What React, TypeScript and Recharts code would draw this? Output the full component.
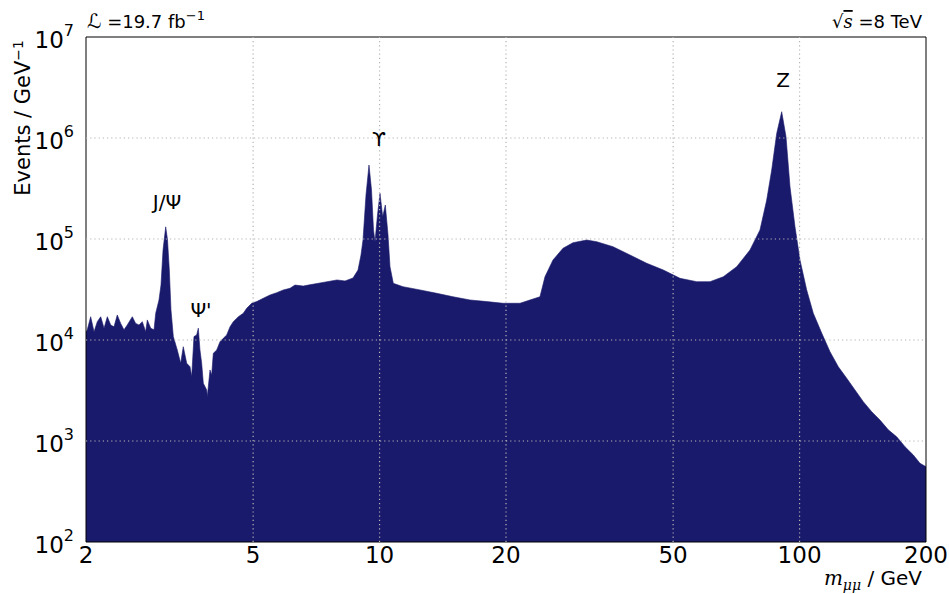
import React from "react";
import { ComposedChart, Area, XAxis, YAxis, ReferenceLine } from "recharts";

// dimuon invariant mass spectrum
const MASS = [
  2.0, 2.014, 2.052, 2.09, 2.128, 2.168, 2.208, 2.248, 2.29, 2.332, 2.374, 2.419, 2.463, 2.508, 2.578,
  2.626, 2.674, 2.723, 2.774, 2.799, 2.852, 2.904, 2.931, 2.984, 3.017, 3.051, 3.096, 3.127, 3.158,
  3.187, 3.228, 3.299, 3.361, 3.409, 3.474, 3.537, 3.57, 3.615, 3.669, 3.702, 3.736, 3.771, 3.805,
  3.876, 3.889, 3.947, 3.984, 4.019, 4.095, 4.17, 4.246, 4.325, 4.405, 4.485, 4.61, 4.738, 4.827,
  4.961, 5.099, 5.287, 5.485, 5.69, 5.9, 6.12, 6.29, 6.583, 6.766, 7.214, 7.919, 8.274, 8.644, 8.885,
  9.032, 9.132, 9.283, 9.437, 9.568, 9.673, 9.753, 9.887, 10.024, 10.173, 10.32, 10.474, 10.589,
  10.782, 11.371, 12.484, 13.678, 14.956, 16.416, 17.992, 19.674, 21.596, 22.809, 24.095, 24.765,
  25.876, 27.334, 28.874, 31.133, 32.887, 35.96, 39.472, 43.254, 47.39, 51.918, 56.895, 61.198,
  65.828, 70.848, 76.197, 80.496, 83.506, 85.829, 88.215, 90.668, 92.832, 94.89, 97.526, 100.237,
  103.985, 107.819, 112.901, 118.155, 123.655, 129.482, 135.508, 141.817, 148.497, 155.412,
  162.646, 170.309, 178.25, 186.547, 193.523, 200,
];
const EVENTS = [
  11900, 12600, 17000, 12100, 15200, 17000, 13100, 17000, 14100, 13500, 17700, 14600, 12600, 14100,
  17000, 14600, 14100, 15200, 12100, 15800, 13100, 12600, 18400, 24900, 35000, 77800, 132000, 97700,
  49300, 19800, 10800, 7960, 5880, 8580, 5880, 5440, 4330, 10800, 11200, 13100, 7960, 5880, 3730,
  3200, 2750, 5050, 4500, 7380, 7960, 9620, 10400, 11200, 13500, 15200, 17000, 18400, 20600, 23100,
  24000, 25900, 27900, 29400, 31300, 32500, 35000, 34200, 35000, 36700, 39300, 38400, 41100, 49300,
  69400, 97700, 273000, 540000, 306000, 123000, 94000, 173000, 283000, 166000, 217000, 110000,
  53200, 36400, 33700, 31300, 29000, 26800, 24900, 24000, 23100, 23100, 24900, 26800, 42300, 61900,
  80900, 91900, 97700, 94000, 83900, 69400, 57500, 49300, 40800, 37800, 37800, 42300, 53200, 77800,
  123000, 243000, 482000, 1110000, 1820000, 1030000, 329000, 132000, 61900, 31300, 18400, 11700,
  7660, 5440, 4180, 3200, 2450, 1950, 1610, 1290, 1100, 878, 727, 601, 557,
];

const X_TICKS = [2, 5, 10, 20, 50, 100, 200];
const X_GRID = [5, 10, 20, 50, 100];
const Y_TICKS = [1e2, 1e3, 1e4, 1e5, 1e6, 1e7];
const Y_GRID = [1e3, 1e4, 1e5, 1e6];
const Y_MINOR = [
  200, 300, 400, 500, 600, 700, 800, 900,
  2e3, 3e3, 4e3, 5e3, 6e3, 7e3, 8e3, 9e3,
  2e4, 3e4, 4e4, 5e4, 6e4, 7e4, 8e4, 9e4,
  2e5, 3e5, 4e5, 5e5, 6e5, 7e5, 8e5, 9e5,
  2e6, 3e6, 4e6, 5e6, 6e6, 7e6, 8e6, 9e6,
];

const data = MASS.map((m, i) => ({ m, n: EVENTS[i] }));

const FONT = "DejaVu Sans, sans-serif";
const NAVY = "#1a1a6c";
const W = 949;
const H = 594;

function YTick({ x, y, payload }: any) {
  const exp = Math.round(Math.log10(payload.value));
  return (
    <text x={x - 12} y={y + 11} textAnchor="end" fontSize={23} fontFamily={FONT} fill="#000">
      10
      <tspan dy={-12} fontSize={16}>{exp}</tspan>
    </text>
  );
}

function XTick({ x, y, payload }: any) {
  return (
    <text x={x} y={y + 21} textAnchor="middle" fontSize={23} fontFamily={FONT} fill="#000">
      {payload.value}
    </text>
  );
}

const logX = { dataKey: "m", scale: "log" as const, type: "number" as const, domain: [2, 200], allowDataOverflow: true, interval: 0 as const };
const logY = { dataKey: "n", scale: "log" as const, type: "number" as const, domain: [100, 1e7], allowDataOverflow: true, interval: 0 as const };
const black = { stroke: "#000", strokeWidth: 1 };

// dotted grid drawn in a transparent chart stacked on top, so it shows over the filled histogram
function GridOverlay() {
  return (
    <div style={{ position: "absolute", left: 0, top: 0, zIndex: 5, pointerEvents: "none" }}>
      <ComposedChart width={W} height={H} data={data} margin={{ top: 37, right: 23, bottom: 52, left: 86 }}>
        <XAxis xAxisId="g" {...logX} hide />
        <YAxis yAxisId="g" {...logY} hide />
        {X_GRID.map((v) => (
          <ReferenceLine key={"gx" + v} xAxisId="g" yAxisId="g" x={v} stroke="#b4b4b4" strokeWidth={1.2}
            strokeDasharray="1.2 3" ifOverflow="visible" />
        ))}
        {Y_GRID.map((v) => (
          <ReferenceLine key={"gy" + v} xAxisId="g" yAxisId="g" y={v} stroke="#b4b4b4" strokeWidth={1.2}
            strokeDasharray="1.2 3" ifOverflow="visible" />
        ))}
      </ComposedChart>
    </div>
  );
}

export default function App() {
  return (
    <div style={{ position: "absolute", left: 0, top: 0, width: W, height: H, background: "#fff" }}>
      <div style={{ position: "absolute", left: 0, top: 0, zIndex: 1 }}>
        <ComposedChart width={W} height={H} data={data} margin={{ top: 37, right: 23, bottom: 0, left: 0 }}>
          {/* axes carrying the labels */}
          <XAxis xAxisId="x" {...logX} ticks={X_TICKS} height={52} tickSize={0} tickMargin={0}
            tickLine={false} axisLine={black} tick={<XTick />} />
          <YAxis yAxisId="y" {...logY} ticks={Y_TICKS} width={86} tickSize={0} tickMargin={0}
            tickLine={false} axisLine={black} tick={<YTick />} />

          {/* inward tick marks on the four sides */}
          <XAxis xAxisId="xb" {...logX} ticks={X_TICKS} height={1} mirror tickSize={5} tick={false}
            axisLine={false} tickLine={black} />
          <XAxis xAxisId="xt" orientation="top" {...logX} ticks={X_TICKS} height={1} mirror tickSize={5}
            tick={false} axisLine={black} tickLine={black} />
          <YAxis yAxisId="yl" {...logY} ticks={Y_TICKS} width={1} mirror tickSize={6} tick={false}
            axisLine={false} tickLine={black} />
          <YAxis yAxisId="ylm" {...logY} ticks={Y_MINOR} width={1} mirror tickSize={3} tick={false}
            axisLine={false} tickLine={black} />
          <YAxis yAxisId="yr" orientation="right" {...logY} ticks={Y_TICKS} width={1} mirror tickSize={6}
            tick={false} axisLine={black} tickLine={black} />
          <YAxis yAxisId="yrm" orientation="right" {...logY} ticks={Y_MINOR} width={1} mirror tickSize={3}
            tick={false} axisLine={false} tickLine={black} />

          <Area
            xAxisId="x"
            yAxisId="y"
            dataKey="n"
            type="linear"
            baseValue={100}
            stroke={NAVY}
            strokeWidth={0.6}
            fill={NAVY}
            fillOpacity={1}
            isAnimationActive={false}
            dot={false}
            activeDot={false}
          />
        </ComposedChart>
      </div>

      <GridOverlay />

      <svg width={W} height={H} style={{ position: "absolute", left: 0, top: 0, zIndex: 6, pointerEvents: "none" }}>
        <g fontFamily={FONT} fill="#000">
          <text x={87} y={28} fontSize={18}>
            <tspan fontStyle="italic" fontSize={20}>ℒ</tspan>
            <tspan> =19.7 fb</tspan>
            <tspan dy={-8} fontSize={13}>−1</tspan>
          </text>
          <text x={922} y={28} fontSize={18} textAnchor="end">
            <tspan>√</tspan>
            <tspan fontStyle="italic" fontFamily="DejaVu Serif, serif" textDecoration="overline">s</tspan>
            <tspan> =8 TeV</tspan>
          </text>
          <text transform="translate(30,40) rotate(-90)" fontSize={21} textAnchor="end">
            Events / GeV
            <tspan dy={-7} fontSize={14}>−1</tspan>
          </text>
          <text x={922} y={585} fontSize={20} textAnchor="end">
            <tspan fontStyle="italic" fontFamily="DejaVu Serif, serif">m</tspan>
            <tspan dy={5} fontSize={14} fontStyle="italic" fontFamily="DejaVu Serif, serif">μμ</tspan>
            <tspan dy={-5}> / GeV</tspan>
          </text>
          <text x={167} y={209} fontSize={20} textAnchor="middle">J/Ψ</text>
          <text x={201} y={317} fontSize={20} textAnchor="middle">Ψ'</text>
          <text x={379} y={146} fontSize={20} textAnchor="middle">ϒ</text>
          <text x={783} y={87} fontSize={20} textAnchor="middle">Z</text>
        </g>
      </svg>
    </div>
  );
}
